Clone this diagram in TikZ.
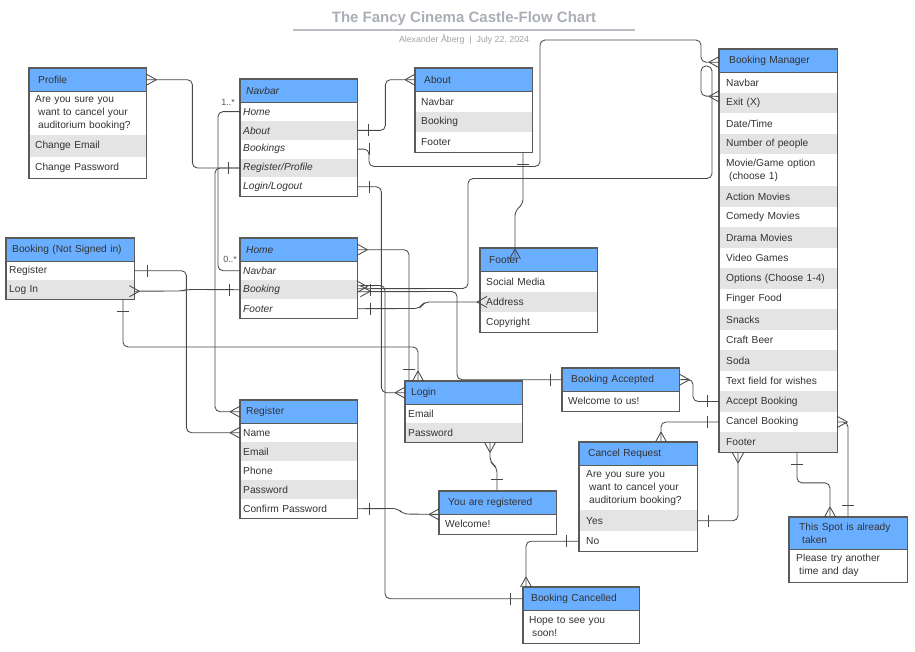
\documentclass[tikz,border=0pt]{standalone}
\usepackage{fontspec}
\setmainfont{Liberation Sans}
\usetikzlibrary{calc}
\definecolor{hdrblue}{RGB}{106,174,255}
\definecolor{rowgray}{RGB}{228,228,228}
\definecolor{framec}{RGB}{90,90,90}
\definecolor{connc}{RGB}{72,72,72}
\definecolor{txtc}{RGB}{51,51,51}
\definecolor{titlec}{RGB}{170,174,182}
\definecolor{subc}{RGB}{160,163,168}
\definecolor{lblc}{RGB}{85,85,85}
\tikzset{
 erow/.style={anchor=north west, inner ysep=0pt, align=left, text=txtc, font=\fontsize{10.2}{13}\selectfont, draw=none},
 hdr/.style={fill=hdrblue}, gry/.style={fill=rowgray}, wht/.style={fill=white},
 itl/.style={font=\fontsize{10.2}{13}\selectfont\itshape},
 frame/.style={draw=framec, line width=1.1pt},
 conn/.style={draw=connc, line width=0.85pt},
 lnk/.style={conn, rounded corners=5pt},
 lbl/.style={text=lblc, font=\fontsize{9}{10}\selectfont, inner sep=0pt},
}
\newcommand\erow[8]{\pgfmathsetmacro\erowtw{#4-2*#7}%
 \node[erow,#6,minimum width=#4pt,minimum height=#5pt,inner xsep=#7pt,text width=\erowtw pt] (#1) at (#2,#3) {#8};}
\newcommand\eframe[2]{\draw[frame] (#1.north west) rectangle (#2.south east); \draw[frame] (#1.south west) -- (#1.south east);}
\newcommand\crowE[1]{\draw[conn] ($(#1)+(10,0)$) -- ($(#1)+(0,-5.5)$) ($(#1)+(10,0)$) -- ($(#1)+(0,5.5)$);}
\newcommand\crowW[1]{\draw[conn] ($(#1)+(-10,0)$) -- ($(#1)+(0,-5.5)$) ($(#1)+(-10,0)$) -- ($(#1)+(0,5.5)$);}
\newcommand\crowN[1]{\draw[conn] ($(#1)+(0,-10)$) -- ($(#1)+(-5.5,0)$) ($(#1)+(0,-10)$) -- ($(#1)+(5.5,0)$);}
\newcommand\crowS[1]{\draw[conn] ($(#1)+(0,10)$) -- ($(#1)+(-5.5,0)$) ($(#1)+(0,10)$) -- ($(#1)+(5.5,0)$);}
\newcommand\barX[2]{\draw[conn] ($(#1)+(#2,-6)$) -- ($(#1)+(#2,6)$);}
\newcommand\barY[2]{\draw[conn] ($(#1)+(-6,#2)$) -- ($(#1)+(6,#2)$);}
\begin{document}
\begin{tikzpicture}[x=1pt,y=-1pt]
\useasboundingbox[fill=white] (0,0) rectangle (915,652);
% title
\node[text=titlec, font=\fontsize{15}{18}\selectfont\bfseries] (title) at (464,19) {The Fancy Cinema Castle-Flow Chart};
\draw[draw=titlec!80, line width=1.4pt] (293,30) -- (635,30);
\node[text=subc, font=\fontsize{8.8}{10}\selectfont] (subtitle) at (464,40) {Alexander Åberg\ \ |\ \ July 22, 2024};

% Profile
\erow{profH}{29}{68}{117}{23}{hdr}{9}{Profile}
\erow{profR1}{29}{91}{117}{44}{wht}{6}{Are you sure you\\\hspace*{3pt}want to cancel your\\\hspace*{3pt}auditorium booking?}
\erow{profR2}{29}{135}{117}{22}{gry}{6}{Change Email}
\erow{profR3}{29}{157}{117}{21}{wht}{6}{Change Password}
\eframe{profH}{profR3}

% Navbar
\erow{navH}{240}{79}{117}{23}{hdr,itl}{6}{Navbar}
\erow{navHome}{240}{102}{117}{18.8}{wht,itl}{3}{Home}
\erow{navAbout}{240}{120.8}{117}{18.8}{gry,itl}{3}{About}
\erow{navBook}{240}{139.6}{117}{18.8}{wht,itl}{3}{Bookings}
\erow{navReg}{240}{158.4}{117}{18.8}{gry,itl}{3}{Register/Profile}
\erow{navLog}{240}{177.2}{117}{18.8}{wht,itl}{3}{Login/Logout}
\eframe{navH}{navLog}

% About
\erow{abH}{415}{68}{117}{23}{hdr}{9}{About}
\erow{abNav}{415}{91}{117}{20.5}{wht}{6}{Navbar}
\erow{abBook}{415}{111.5}{117}{20.5}{gry}{6}{Booking}
\erow{abFoot}{415}{132}{117}{20.5}{wht}{6}{Footer}
\eframe{abH}{abFoot}

% Booking Manager
\erow{bmH}{719}{49}{118}{23}{hdr}{10}{Booking Manager}
\erow{bmNav}{719}{72}{118}{20.5}{wht}{7}{Navbar}
\erow{bmExit}{719}{92.5}{118}{20.5}{gry}{7}{Exit (X)}
\erow{bmDate}{719}{113}{118}{20.5}{wht}{7}{Date/Time}
\erow{bmNum}{719}{133.5}{118}{20.5}{gry}{7}{Number of people}
\erow{bmMov}{719}{154}{118}{32}{wht}{7}{Movie/Game option\\\hspace*{3pt}(choose 1)}
\erow{bmAct}{719}{186}{118}{20.5}{gry}{7}{Action Movies}
\erow{bmCom}{719}{206.5}{118}{20.5}{wht}{7}{Comedy Movies}
\erow{bmDra}{719}{227}{118}{20.5}{gry}{7}{Drama Movies}
\erow{bmVid}{719}{247.5}{118}{20.5}{wht}{7}{Video Games}
\erow{bmOpt}{719}{268}{118}{20.5}{gry}{7}{Options (Choose 1-4)}
\erow{bmFin}{719}{288.5}{118}{20.5}{wht}{7}{Finger Food}
\erow{bmSna}{719}{309}{118}{20.5}{gry}{7}{Snacks}
\erow{bmCra}{719}{329.5}{118}{20.5}{wht}{7}{Craft Beer}
\erow{bmSod}{719}{350}{118}{20.5}{gry}{7}{Soda}
\erow{bmTxt}{719}{370.5}{118}{20.5}{wht}{7}{Text field for wishes}
\erow{bmAcc}{719}{391}{118}{20.5}{gry}{7}{Accept Booking}
\erow{bmCan}{719}{411.5}{118}{20.5}{wht}{7}{Cancel Booking}
\erow{bmFoot}{719}{432}{118}{20.5}{gry}{7}{Footer}
\eframe{bmH}{bmFoot}

% Booking (Not Signed in)
\erow{bnsH}{6}{238}{128}{23}{hdr}{6}{Booking (Not Signed in)}
\erow{bnsReg}{6}{261}{128}{19}{wht}{3}{Register}
\erow{bnsLog}{6}{280}{128}{19}{gry}{3}{Log In}
\eframe{bnsH}{bnsLog}

% Home
\erow{homeH}{240}{238}{117}{23}{hdr,itl}{6}{Home}
\erow{homeNav}{240}{261}{117}{19}{wht,itl}{3}{Navbar}
\erow{homeBook}{240}{280}{117}{19}{gry,itl}{3}{Booking}
\erow{homeFoot}{240}{299}{117}{19}{wht,itl}{3}{Footer}
\eframe{homeH}{homeFoot}

% Footer
\erow{ftH}{480}{248}{117}{23}{hdr}{9}{Footer}
\erow{ftSoc}{480}{271}{117}{20.5}{wht}{6}{Social Media}
\erow{footAddr}{480}{291.5}{117}{20.5}{gry}{6}{Address}
\erow{ftCopy}{480}{312}{117}{20.5}{wht}{6}{Copyright}
\eframe{ftH}{ftCopy}

% Register
\erow{regH}{240}{400}{117}{23}{hdr}{6}{Register}
\erow{regName}{240}{423}{117}{19}{wht}{3}{Name}
\erow{regEmail}{240}{442}{117}{19}{gry}{3}{Email}
\erow{regPhone}{240}{461}{117}{19}{wht}{3}{Phone}
\erow{regPwd}{240}{480}{117}{19}{gry}{3}{Password}
\erow{regConf}{240}{499}{117}{19}{wht}{3}{Confirm Password}
\eframe{regH}{regConf}

% Login
\erow{loginH}{405}{381}{117}{23}{hdr}{6}{Login}
\erow{loginEmail}{405}{404}{117}{19}{wht}{3}{Email}
\erow{loginPwd}{405}{423}{117}{19}{gry}{3}{Password}
\eframe{loginH}{loginPwd}

% You are registered
\erow{yrH}{439}{491}{117}{23}{hdr}{9}{You are registered}
\erow{yrW}{439}{514}{117}{20}{wht}{6}{Welcome!}
\eframe{yrH}{yrW}

% Booking Accepted
\erow{baH}{562}{368}{117}{23}{hdr}{9}{Booking Accepted}
\erow{baW}{562}{391}{117}{20}{wht}{6}{Welcome to us!}
\eframe{baH}{baW}

% Cancel Request
\erow{crH}{579}{442}{118}{23}{hdr}{9}{Cancel Request}
\erow{crTxt}{579}{465}{118}{45}{wht}{7}{Are you sure you\\\hspace*{3pt}want to cancel your\\\hspace*{3pt}auditorium booking?}
\erow{crYes}{579}{510}{118}{21}{gry}{7}{Yes}
\erow{crNo}{579}{531}{118}{20}{wht}{7}{No}
\eframe{crH}{crNo}

% This Spot
\erow{tsH}{789}{517}{118}{32}{hdr}{10}{This Spot is already\\\hspace*{3pt}taken}
\erow{tsBody}{789}{549}{118}{33}{wht}{7}{Please try another\\\hspace*{3pt}time and day}
\eframe{tsH}{tsBody}

% Booking Cancelled
\erow{bcH}{523}{587}{116}{23}{hdr}{8}{Booking Cancelled}
\erow{bcBody}{523}{610}{116}{33}{wht}{6}{Hope to see you\\\hspace*{3pt}soon!}
\eframe{bcH}{bcBody}

% ---------- connectors ----------
% Navbar.Home -- Home.Navbar
\draw[lnk] (navHome.west) -- ++(-22,0) |- (homeNav.west);
\node[lbl,anchor=east] (lab1) at (235,102) {1..*};
\node[lbl,anchor=east] (lab0) at (237,259) {0..*};
% Navbar.Register/Profile -- Register
\draw[lnk] (navReg.west) -- ++(-25,0) |- (regH.west);
\crowW{regH.west}
% Profile -- Navbar.Register/Profile
\draw[lnk] (profH.east) -- ++(46,0) |- (navReg.west);
\crowE{profH.east}
\barX{navReg.west}{-12}
% Booking NS.Register -- Register.Name
\draw[lnk] (bnsReg.east) -- ++(52,0) |- (regName.west);
\barX{bnsReg.east}{13}
\crowW{regName.west}
% Booking NS.Log In -- Home.Booking
\coordinate (bnsL) at ($(bnsLog.east)+(0,1.5)$);
\coordinate (bnsLc) at ($(bnsLog.east)+(-5,1.5)$);
\draw[lnk] (bnsL) -- (182,291) -- (187,289.5) -- (homeBook.west);
\crowE{bnsLc}
\barX{homeBook.west}{-11}
% Booking NS bottom -- Login top
\coordinate (bnsB) at ($(bnsLog.south west)+(117,0)$);
\coordinate (loginT2) at ($(loginH.north west)+(13,0)$);
\draw[lnk] (bnsB) |- (418,347) -- (loginT2);
\barY{bnsB}{12}
\crowN{loginT2}
% Navbar.Login/Logout -- Login
\draw[lnk] (navLog.east) -- ++(24,0) |- (loginH.west);
\barX{navLog.east}{12}
\crowW{loginH.west}
% Home header -- Login top
\coordinate (loginT1) at ($(loginH.north west)+(4,0)$);
\draw[lnk] (homeH.east) -| (loginT1);
\crowE{homeH.east}
\barY{loginT1}{-12}
% Navbar.About -- About
\draw[lnk] (navAbout.east) -- ++(28,0) |- (abH.west);
\barX{navAbout.east}{11}
\crowW{abH.west}
% Navbar.Bookings -- Booking Manager header
\coordinate (bmT) at ($(bmH.west)+(0,1.5)$);
\draw[lnk] (navBook.east) -- (369,149) -- (369,166.5) -- (540,166.5) -- (540,40) -- (701,40) |- (bmT);
\barX{navBook.east}{12}
\crowW{bmT}
% Home.Booking -- Booking Manager (Navbar/Exit)
\coordinate (hbK) at ($(homeBook.east)+(0,-1)$);
\coordinate (bmK) at ($(bmNav.south west)+(0,3.5)$);
\draw[lnk] (hbK) -- (468,288.5) -- (468,178.5) -- (712,178.5) -- (712,66) -- (701,66) -- (701,96) -- (bmK);
\crowW{bmK}
% Home.Booking -- Booking Accepted
\coordinate (hbI) at ($(homeBook.east)+(0,2)$);
\draw[lnk] (hbI) -- (457,291.5) |- (baH.west);
\barX{baH.west}{-12}
% Home.Booking -- Booking Cancelled
\coordinate (hbJ) at ($(homeBook.east)+(0,-4)$);
\draw[lnk] (hbJ) -- (385,285.5) |- (bcH.west);
\barX{bcH.west}{-13}
\coordinate (hbC1) at ($(homeBook.east)+(0,-3)$);
\coordinate (hbC2) at ($(homeBook.east)+(3,1.5)$);
\crowE{hbC1}
\crowE{hbC2}
\barX{homeBook.east}{13}
% Home.Footer -- Footer.Address
\coordinate (fa) at ($(footAddr.west)+(7,0)$);
\draw[lnk] (homeFoot.east) -- (420,308.5) -- (424,302) -- (footAddr.west);
\barX{homeFoot.east}{13}
\crowW{fa}
% About bottom -- Footer header
\coordinate (abB) at ($(abFoot.south west)+(108,0)$);
\coordinate (ftT) at ($(ftH.north west)+(35,11)$);
\draw[lnk] (abB) -- (523,204) -- (515,211) -- (ftT);
\barY{abB}{12}
\crowN{ftT}
% Booking Accepted -- Accept Booking
\draw[lnk] (baH.east) -- (693,379.5) |- (bmAcc.west);
\crowE{baH.east}
\barX{bmAcc.west}{-12}
% Cancel Request -- Cancel Booking
\coordinate (crT) at ($(crH.north west)+(82,0)$);
\draw[lnk] (crT) |- (bmCan.west);
\crowN{crT}
\barX{bmCan.west}{-12}
% Cancel Request.Yes -- Booking Manager bottom
\coordinate (bmB1) at ($(bmFoot.south west)+(19,0)$);
\draw[lnk] (crYes.east) -| (bmB1);
\barX{crYes.east}{11}
\crowS{bmB1}
% Cancel Request.No -- Booking Cancelled
\coordinate (bcT) at ($(bcH.north west)+(3,0)$);
\draw[lnk] (crNo.west) -| (bcT);
\barX{crNo.west}{-13}
\crowN{bcT}
% Booking Manager bottom -- This Spot
\coordinate (bmB2) at ($(bmFoot.south west)+(78,0)$);
\coordinate (tsT1) at ($(tsH.north west)+(41,0)$);
\draw[lnk] (bmB2) -- ++(0,30) -| (tsT1);
\barY{bmB2}{12}
\crowN{tsT1}
% Cancel Booking -- This Spot
\coordinate (tsT2) at ($(tsH.north west)+(59,0)$);
\draw[lnk] (bmCan.east) -| (tsT2);
\crowE{bmCan.east}
\barY{tsT2}{-12}
% Login.Password -- You are registered
\coordinate (lpB) at ($(loginPwd.south west)+(85,0)$);
\coordinate (yrT) at ($(yrH.north west)+(58,0)$);
\draw[lnk] (lpB) -- ++(0,20) -- ($(yrT)+(0,-24)$) -- (yrT);
\crowS{lpB}
\barY{yrT}{-12}
% Register.Confirm Password -- You are registered
\draw[lnk] (regConf.east) -- (398,508.5) -- (403,514) -- (yrH.south west);
\barX{regConf.east}{12}
\crowW{yrH.south west}
\end{tikzpicture}
\end{document}
